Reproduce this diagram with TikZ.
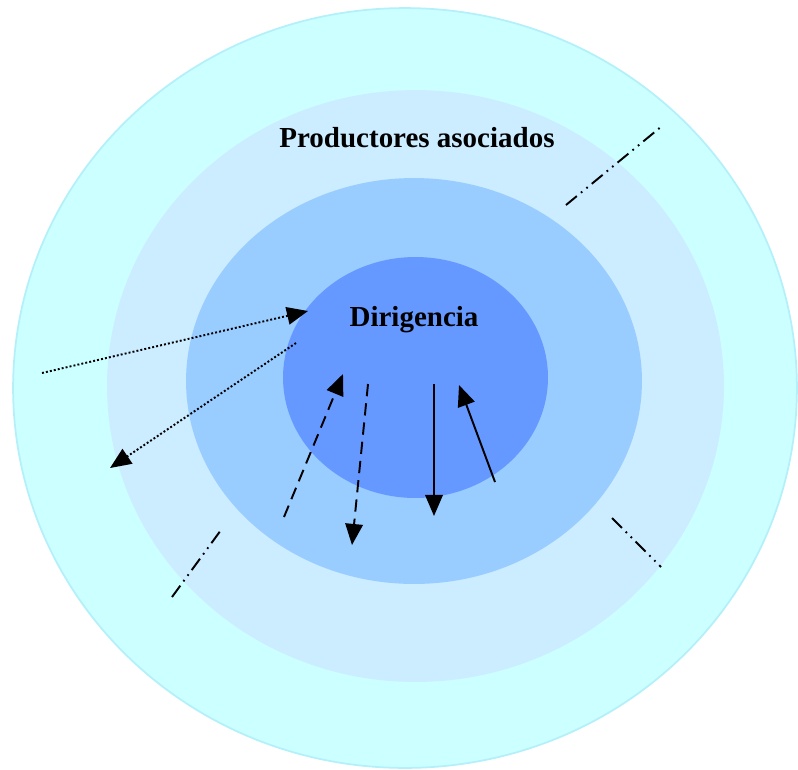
\documentclass[tikz,border=0pt]{standalone}
\usepackage{fontspec}
\setmainfont{Liberation Serif}
\usetikzlibrary{arrows.meta}

\begin{document}
\begin{tikzpicture}[x=0.02cm, y=-0.02cm, >={Triangle[length=12pt,width=10pt]}, line width=1.1pt,
    etiqueta/.style={font=\bfseries\fontsize{16.5}{19}\selectfont, inner sep=0pt},
    punteada/.style={->, dash pattern=on 1.1pt off 1.2pt},
    rayada/.style={->, dash pattern=on 7pt off 4pt},
    rayapunto/.style={dash pattern=on 8pt off 3pt on 1pt off 3pt on 1pt off 3pt}]
        % Colores
        \definecolor{anilloext}{RGB}{204, 255, 255}
        \definecolor{bordecian}{RGB}{180, 240, 250}
        \definecolor{anillosoc}{RGB}{204, 236, 255}
        \definecolor{anillomed}{RGB}{153, 204, 255}
        \definecolor{nucleo}{RGB}{102, 153, 255}

        \useasboundingbox (0,0) rectangle (798,769);

        % Anillos
        \filldraw[fill=anilloext, draw=bordecian, line width=1pt] (405,388) ellipse [x radius=7.84cm, y radius=7.60cm];
        \fill[anillosoc] (415.5,386) ellipse [x radius=6.17cm, y radius=5.92cm];
        \fill[anillomed] (414,381) ellipse [x radius=4.56cm, y radius=4.06cm];
        \fill[nucleo] (415.5,377.5) ellipse [x radius=2.65cm, y radius=2.41cm];

        % Nodos
        \node[etiqueta] (productores) at (417,138) {Productores asociados};
        \node[etiqueta] (dirigencia) at (414,320) {Dirigencia};

        % Extremos de las flechas
        \coordinate (pa1) at (42,373);   \coordinate (pb1) at (308,311);
        \coordinate (pa2) at (296,343);  \coordinate (pb2) at (110,468);
        \coordinate (ra1) at (284,517);  \coordinate (rb1) at (343,374);
        \coordinate (ra2) at (368,384);  \coordinate (rb2) at (352,545);
        \coordinate (sa1) at (434,384);  \coordinate (sb1) at (434,516);
        \coordinate (sa2) at (495,482);  \coordinate (sb2) at (459,385);
        \coordinate (la1) at (566,205);  \coordinate (lb1) at (662,126);
        \coordinate (la2) at (172,597);  \coordinate (lb2) at (221,530);
        \coordinate (la3) at (612,518);  \coordinate (lb3) at (661,567);

        % Flechas
        \draw[punteada] (pa1) -- (pb1);
        \draw[punteada] (pa2) -- (pb2);
        \draw[rayada] (ra1) -- (rb1);
        \draw[rayada] (ra2) -- (rb2);
        \draw[->] (sa1) -- (sb1);
        \draw[->] (sa2) -- (sb2);

        % Limites
        \draw[rayapunto] (la1) -- (lb1);
        \draw[rayapunto] (la2) -- (lb2);
        \draw[rayapunto] (la3) -- (lb3);

    \end{tikzpicture}
\end{document}
